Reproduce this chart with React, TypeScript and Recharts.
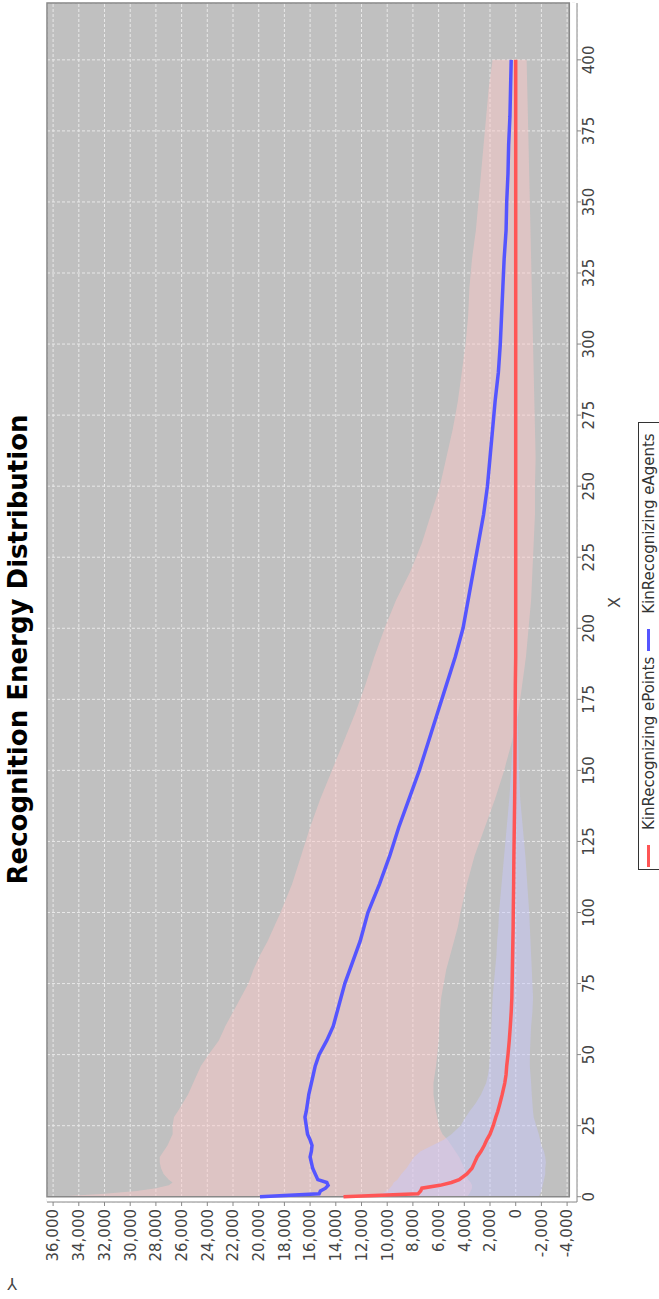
import {
  ComposedChart,
  Area,
  Line,
  XAxis,
  YAxis,
  CartesianGrid,
  ReferenceArea,
  Legend,
} from 'recharts'

// step index (x axis)
const steps = [
  0, 1, 2, 3, 4, 5, 6, 8, 10, 12, 14, 16, 18, 20, 22, 25, 28, 30, 33, 36, 40, 43, 46, 50, 55, 60, 65, 70, 75, 80, 85, 90, 95, 100,
  110, 120, 130, 140, 150, 160, 170, 180, 190, 200, 210, 220, 230, 240, 250, 260, 270, 280, 290, 300, 310, 320, 330, 340, 350, 360, 370, 380, 390, 400,
]

// KinRecognizing eAgents: mean and deviation band
const agentsMean = [
  19900, 15300, 15200, 14800, 14600, 14700, 15400, 15600, 15800, 15900, 16000, 15900, 15850, 16000, 16200, 16300, 16400, 16300, 16200, 16100, 15900, 15750, 15600, 15300, 14700, 14200, 13900, 13600, 13300, 12900, 12500, 12100, 11800, 11500,
  10600, 9800, 9100, 8300, 7500, 6800, 6100, 5400, 4700, 4100, 3700, 3300, 2900, 2500, 2200, 2000, 1800, 1600, 1350, 1200, 1100, 1000, 900, 750, 700, 600, 550, 450, 400, 350,
]
const agentsHigh = [
  35800, 32000, 29500, 28000, 27000, 26700, 27000, 27400, 27600, 27700, 27700, 27400, 27100, 26900, 26700, 26700, 26600, 26300, 25900, 25500, 25100, 24800, 24500, 23900, 23100, 22600, 22000, 21400, 20800, 20400, 19900, 19300, 18800, 18300,
  17400, 16700, 16000, 15200, 14300, 13400, 12500, 11700, 11000, 10200, 9300, 8200, 7300, 6600, 5900, 5400, 4900, 4500, 4200, 3900, 3700, 3600, 3400, 3100, 2900, 2700, 2500, 2300, 2100, 1800,
]
const agentsLow = [
  3800, 3600, 3500, 3400, 3400, 3500, 3700, 3900, 4000, 4200, 4400, 4700, 5000, 5300, 5700, 6000, 6100, 6200, 6300, 6400, 6400, 6300, 6200, 6100, 6000, 5950, 5900, 5800, 5600, 5400, 5100, 4800, 4500, 4300,
  3800, 3200, 2400, 1600, 900, 300, -200, -500, -800, -1000, -1200, -1300, -1400, -1500, -1500, -1550, -1500, -1450, -1400, -1350, -1300, -1250, -1200, -1150, -1100, -1050, -1000, -950, -900, -850,
]

// KinRecognizing ePoints: mean and deviation band
const pointsMean = [
  13400, 7600, 7400, 7300, 5900, 5000, 4400, 3800, 3400, 3200, 3000, 2700, 2450, 2250, 2000, 1750, 1550, 1400, 1220, 1050, 850, 750, 700, 600, 500, 420, 350, 300, 280, 260, 240, 220, 200, 190,
  160, 140, 110, 80, 60, 50, 40, 30, 0, 0, 0, 0, 0, 0, 0, 0, 0, 0, 0, 0, 0, 0, 0, 0, 0, 0, 0, 0, 0, 0,
]
const pointsHigh = [
  15000, 10500, 10000, 9800, 9600, 9500, 9200, 8900, 8500, 8200, 7900, 7400, 6500, 5600, 5000, 4300, 3900, 3600, 3100, 2700, 2300, 2150, 2050, 2000, 1950, 1900, 1850, 1800, 1700, 1600, 1500, 1450, 1350, 1300,
  1100, 900, 700, 500, 350, 250, 200, 150, 100, 80, 60, 50, 40, 30, 30, 20, 20, 20, 10, 10, 10, 10, 10, 10, 0, 0, 0, 0, 0, 0,
]
const pointsLow = [
  -1800, -1900, -2000, -2050, -2100, -2150, -2200, -2300, -2300, -2350, -2300, -2200, -2000, -1900, -1800, -1600, -1400, -1350, -1300, -1250, -1200, -1150, -1100, -1100, -1150, -1200, -1300, -1350, -1300, -1250, -1200, -1150, -1100, -1050,
  -900, -750, -550, -350, -250, -200, -150, -100, -80, -60, -50, -40, -30, -30, -20, -20, -20, -10, -10, -10, -10, -10, -10, -10, 0, 0, 0, 0, 0, 0,
]

const xTicks = [0, 25, 50, 75, 100, 125, 150, 175, 200, 225, 250, 275, 300, 325, 350, 375, 400]
const yTicks = [-4000, -2000, 0, 2000, 4000, 6000, 8000, 10000, 12000, 14000, 16000, 18000, 20000, 22000, 24000, 26000, 28000, 30000, 32000, 34000, 36000]

const seriesNames = ['KinRecognizing ePoints', 'KinRecognizing eAgents']

const data = steps.map((x, i) => ({
  x,
  agents: agentsMean[i],
  agentsBand: [agentsLow[i], agentsHigh[i]],
  points: pointsMean[i],
  pointsBand: [pointsLow[i], pointsHigh[i]],
}))

const FONT = '"DejaVu Sans", sans-serif'

const renderLegend = (props: any) => {
  const items = (props.payload || [])
    .filter((p: any) => seriesNames.includes(p.value))
    .sort((a: any, b: any) => seriesNames.indexOf(a.value) - seriesNames.indexOf(b.value))
  return (
    <div
      style={{
        display: 'inline-flex',
        alignItems: 'center',
        height: 22,
        boxSizing: 'border-box',
        border: '1px solid #333',
        background: '#fff',
        padding: '0 4px 0 2px',
        fontFamily: FONT,
      }}
    >
      {items.map((p: any) => (
        <div key={p.value} style={{ display: 'flex', alignItems: 'center' }}>
          <span style={{ width: 22, height: 3, background: p.color, marginRight: 15 }} />
          <span style={{ fontSize: 15, color: '#333', marginRight: 6, whiteSpace: 'nowrap' }}>{p.value}</span>
        </div>
      ))}
    </div>
  )
}

const YTitle = () => (
  <text
    x={16}
    y={12}
    transform="rotate(-90 16 12)"
    textAnchor="middle"
    dominantBaseline="central"
    fontSize={16}
    fill="#444"
    fontFamily={FONT}
  >
    Y
  </text>
)

export default function App() {
  return (
    <div
      style={{
        position: 'absolute',
        left: 0,
        top: 0,
        width: 659,
        height: 1299,
        overflow: 'hidden',
        background: '#fff',
      }}
    >
      {/* chart is drawn sideways, turned a quarter turn counter-clockwise */}
      <div
        style={{
          position: 'absolute',
          left: 0,
          top: 0,
          width: 1299,
          height: 659,
          transformOrigin: '0 0',
          transform: 'translateY(1299px) rotate(-90deg)',
          fontFamily: FONT,
        }}
      >
        <div
          style={{
            position: 'absolute',
            left: 0,
            top: 3,
            width: 1299,
            textAlign: 'center',
            fontSize: 26,
            fontWeight: 'bold',
            color: '#000',
            whiteSpace: 'nowrap',
          }}
        >
          Recognition Energy Distribution
        </div>

        <ComposedChart
          width={1299}
          height={659}
          data={data}
          margin={{ top: 47, right: 3, bottom: 0, left: 0 }}
        >
          <CartesianGrid fill="#c0c0c0" stroke="#e8e8e8" strokeDasharray="3 2" />
          <XAxis
            type="number"
            dataKey="x"
            domain={[-1.86, 420]}
            allowDataOverflow
            ticks={xTicks}
            interval={0}
            height={82}
            tickSize={4}
            tickMargin={2}
            tick={{ fill: '#444', fontSize: 15, fontFamily: FONT }}
            axisLine={{ stroke: '#888' }}
            tickLine={{ stroke: '#888' }}
            label={{ value: 'X', position: 'insideTop', offset: 32, fill: '#444', fontSize: 16, fontFamily: FONT }}
          />
          <YAxis
            type="number"
            domain={[-4770, 36475]}
            allowDataOverflow
            ticks={yTicks}
            interval={0}
            width={97}
            tickSize={4}
            tickMargin={3}
            tickFormatter={(v: number) => v.toLocaleString('en-US')}
            tick={{ fill: '#444', fontSize: 15, fontFamily: FONT }}
            axisLine={{ stroke: '#888' }}
            tickLine={{ stroke: '#888' }}
            label={YTitle}
          />
          <ReferenceArea x1={-1.86} x2={0} y1={-4770} y2={36475} fill="#fff" fillOpacity={1} stroke="none" />
          <ReferenceArea x1={-1.86} x2={420} y1={-4770} y2={-4171} fill="#fff" fillOpacity={1} stroke="none" />
          <Area
            type="linear"
            dataKey="agentsBand"
            fill="#ffc8c8"
            fillOpacity={0.46}
            stroke="none"
            legendType="none"
            isAnimationActive={false}
          />
          <Area
            type="linear"
            dataKey="pointsBand"
            fill="#c8c8ff"
            fillOpacity={0.46}
            stroke="none"
            legendType="none"
            isAnimationActive={false}
          />
          <ReferenceArea x1={0} x2={420} y1={-4171} y2={36475} fill="none" stroke="#888" strokeWidth={1.5} />
          <Line
            type="linear"
            dataKey="points"
            name={seriesNames[0]}
            stroke="#ff5555"
            strokeWidth={3.5}
            dot={false}
            isAnimationActive={false}
          />
          <Line
            type="linear"
            dataKey="agents"
            name={seriesNames[1]}
            stroke="#5555ff"
            strokeWidth={3.5}
            dot={false}
            isAnimationActive={false}
          />
          <Legend
            layout="horizontal"
            verticalAlign="middle"
            align="center"
            wrapperStyle={{ left: 429, top: 635, width: 442, height: 22 }}
            content={renderLegend}
          />
        </ComposedChart>
      </div>
    </div>
  )
}
